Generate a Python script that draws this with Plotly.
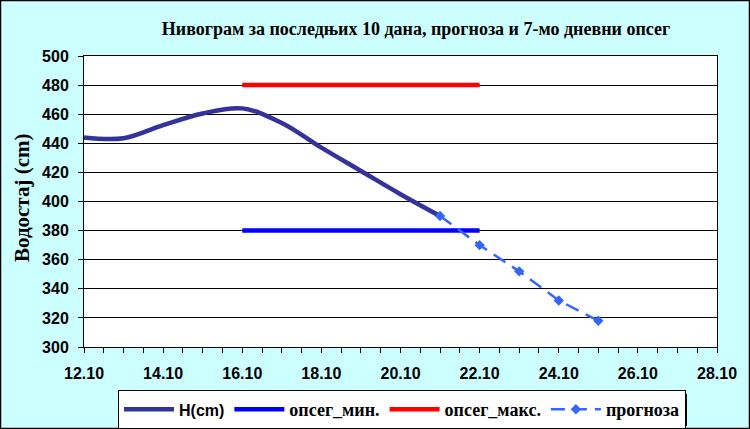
import plotly.graph_objects as go
from datetime import datetime

YEAR = 2010
h_dates = ["12.10", "13.10", "14.10", "15.10", "16.10", "17.10", "18.10", "19.10", "20.10", "21.10"]
h_values = [444, 443.5, 452.5, 460.5, 464, 454, 437, 421, 405, 390]

range_dates = ["16.10", "22.10"]
min_values = [380, 380]
max_values = [480, 480]

fc_dates = ["21.10", "22.10", "23.10", "24.10", "25.10"]
fc_values = [390, 370, 352, 332, 318]

x_range = ["12.10", "28.10"]

SERIF = "Liberation Serif, Times New Roman, serif"
SANS = "Arial, Liberation Sans, sans-serif"


def to_dt(s):
    d, m = s.split(".")
    return datetime(YEAR, int(m), int(d))


# pixel geometry of the plot area
W, H = 750, 429
L, R, T, B = 84, 717, 56, 347


def px(xp):
    return (xp - L) / (R - L)


def py(yp):
    return (B - yp) / (B - T)


fig = go.Figure()
fig.add_trace(go.Scatter(
    x=[to_dt(s) for s in h_dates], y=h_values, mode="lines",
    line=dict(color="#333399", width=4.5, shape="spline", smoothing=1.0),
    name='<span style="font-family:Arial, Liberation Sans, sans-serif;font-size:16px">H(cm)</span>'))
fig.add_trace(go.Scatter(
    x=[to_dt(s) for s in range_dates], y=min_values, mode="lines",
    line=dict(color="#0000FF", width=4.5), name="опсег_мин."))
fig.add_trace(go.Scatter(
    x=[to_dt(s) for s in range_dates], y=max_values, mode="lines",
    line=dict(color="#FF0000", width=4.5), name="опсег_макс."))
fig.add_trace(go.Scatter(
    x=[to_dt(s) for s in fc_dates], y=fc_values, mode="lines+markers",
    line=dict(color="#3366FF", width=2.5, dash="14px,8px"),
    marker=dict(symbol="diamond", size=8, color="#3366FF"),
    name="прогноза"))

fig.update_layout(
    width=W, height=H,
    margin=dict(l=L, r=W - R, t=T, b=H - B, pad=0, autoexpand=False),
    paper_bgcolor="#CCFFFF", plot_bgcolor="white",
    font=dict(family=SERIF, color="black"),
    title=dict(text="<b>Нивограм за последњих 10 дана, прогноза и 7-мо дневни опсег</b>",
               font=dict(family=SERIF, size=18, color="black"),
               xref="container", x=416 / W, xanchor="center",
               yref="container", y=1 - 29 / H, yanchor="middle"),
    showlegend=True,
    legend=dict(orientation="h", x=px(402), xanchor="center", y=py(390), yanchor="top",
                bgcolor="white", bordercolor="black", borderwidth=1,
                font=dict(family=SERIF, size=18, color="black", weight="bold"),
                itemwidth=50, tracegroupgap=0),
)

fig.update_xaxes(
    type="date", range=[to_dt(x_range[0]), to_dt(x_range[1])],
    dtick=2 * 86400000, tick0=to_dt(x_range[0]), tickformat="%d.%m",
    ticks="outside", ticklen=5, tickcolor="black",
    minor=dict(dtick=43200000, ticks="outside", ticklen=5, tickcolor="black", showgrid=False),
    tickfont=dict(family=SANS, size=16, color="black", weight="bold"),
    showline=True, linecolor="black", linewidth=1, mirror=True,
    showgrid=False, zeroline=False, ticklabelstandoff=7,
)
fig.update_yaxes(
    range=[300, 500], dtick=20, tick0=300,
    ticks="outside", ticklen=5, tickcolor="black",
    tickfont=dict(family=SANS, size=16, color="black", weight="bold"),
    showline=True, linecolor="black", linewidth=1, mirror=True,
    showgrid=True, gridcolor="black", gridwidth=1, zeroline=False,
    ticklabelstandoff=6,
)

fig.add_annotation(
    text="<b>Водостај (cm)</b>", textangle=-90,
    xref="paper", yref="paper", x=px(22), y=py(198),
    xanchor="center", yanchor="middle", showarrow=False,
    font=dict(family=SERIF, size=21, color="black"))

# legend shadow
fig.add_shape(type="rect", xref="paper", yref="paper",
              x0=px(124), x1=px(687), y0=py(426), y1=py(394),
              fillcolor="black", line=dict(width=0), layer="above")
# outer frame
fig.add_shape(type="rect", xref="paper", yref="paper",
              x0=px(0.5), x1=px(749.5), y0=py(428.5), y1=py(0.5),
              line=dict(color="black", width=1.5), fillcolor="rgba(0,0,0,0)")

fig.write_html("out.html")
